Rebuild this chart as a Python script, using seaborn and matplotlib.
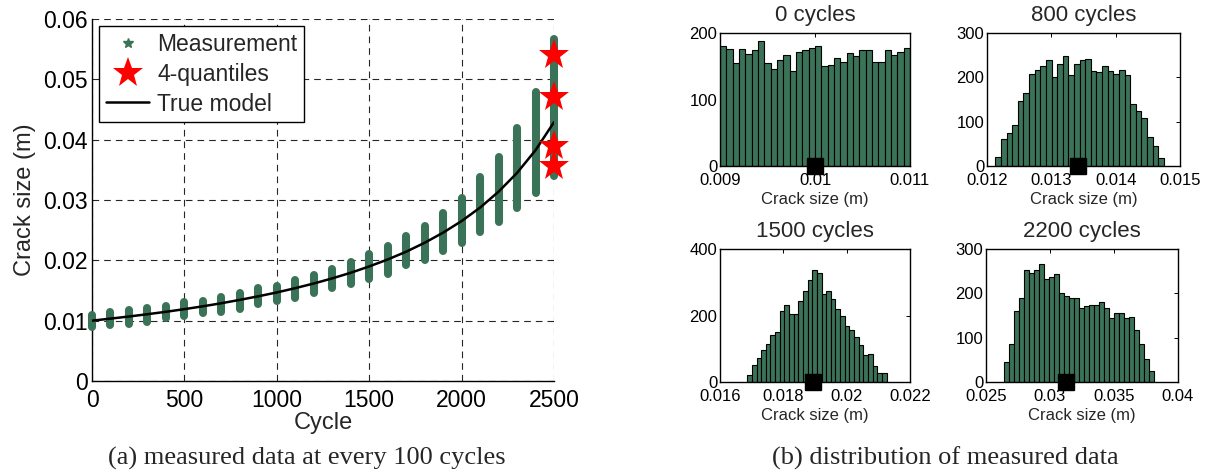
import numpy as np
import pandas as pd
import matplotlib
matplotlib.use("Agg")
import matplotlib.pyplot as plt
from matplotlib.lines import Line2D
import seaborn as sns

# ---------------- data ----------------
cycles = [0, 100, 200, 300, 400, 500, 600, 700, 800, 900, 1000, 1100, 1200,
          1300, 1400, 1500, 1600, 1700, 1800, 1900, 2000, 2100, 2200, 2300, 2400, 2500]
meas_low = [0.0090, 0.0093, 0.0095, 0.0098, 0.0104, 0.0108, 0.0112, 0.0115, 0.0120,
            0.0127, 0.0132, 0.0138, 0.0146, 0.0154, 0.0160, 0.0169, 0.0178, 0.0192,
            0.0201, 0.0216, 0.0229, 0.0247, 0.0263, 0.0286, 0.0311, 0.0340]
meas_high = [0.0110, 0.0114, 0.0117, 0.0121, 0.0125, 0.0131, 0.0133, 0.0140, 0.0146,
             0.0154, 0.0158, 0.0168, 0.0176, 0.0186, 0.0197, 0.0210, 0.0223, 0.0240,
             0.0257, 0.0279, 0.0303, 0.0338, 0.0371, 0.0419, 0.0479, 0.0567]
true_model = [0.01000, 0.01034, 0.01069, 0.01107, 0.01147, 0.01191, 0.01238, 0.01289,
              0.01345, 0.01404, 0.01468, 0.01539, 0.01616, 0.01701, 0.01794, 0.01899,
              0.02014, 0.02143, 0.02291, 0.02459, 0.02651, 0.02874, 0.03138, 0.03449,
              0.03825, 0.04290]
quant_cycle = [2500, 2500, 2500, 2500]
quant_vals = [0.0356, 0.0390, 0.0470, 0.0540]

hist_titles = ["0 cycles", "800 cycles", "1500 cycles", "2200 cycles"]
hist_lo = [0.0090, 0.01213, 0.01686, 0.02643]
hist_hi = [0.0110, 0.01475, 0.02126, 0.03813]
hist_counts = [
    [181, 176, 155, 176, 169, 175, 188, 155, 146, 160, 167, 143, 172, 175, 177,
     181, 151, 152, 162, 157, 170, 165, 174, 175, 157, 156, 175, 167, 172, 178],
    [20, 60, 75, 92, 146, 164, 207, 217, 225, 239, 200, 229, 247, 205, 229,
     239, 242, 215, 212, 225, 215, 207, 217, 205, 139, 124, 108, 65, 45, 17],
    [22, 51, 71, 97, 115, 142, 149, 214, 231, 205, 205, 243, 273, 306, 336,
     329, 264, 273, 250, 221, 200, 168, 156, 135, 111, 80, 85, 47, 28, 28],
    [44, 85, 161, 190, 252, 245, 252, 266, 232, 237, 244, 200, 195, 190, 190,
     168, 171, 173, 173, 180, 168, 144, 156, 156, 144, 146, 117, 85, 53, 24],
]
hist_true = [0.0100, 0.01342, 0.01895, 0.03125]
hist_xticks = [[0.009, 0.010, 0.011], [0.012, 0.013, 0.014, 0.015],
               [0.016, 0.018, 0.020, 0.022], [0.025, 0.030, 0.035, 0.040]]
hist_xlabels = [["0.009", "0.01", "0.011"], ["0.012", "0.013", "0.014", "0.015"],
                ["0.016", "0.018", "0.02", "0.022"], ["0.025", "0.03", "0.035", "0.04"]]
hist_yticks = [[0, 100, 200], [0, 100, 200, 300], [0, 200, 400], [0, 100, 200, 300]]

left_xticks = [0, 500, 1000, 1500, 2000, 2500]
left_yticks = [0, 0.01, 0.02, 0.03, 0.04, 0.05, 0.06]
left_ylabels = ["0", "0.01", "0.02", "0.03", "0.04", "0.05", "0.06"]

# ---------------- style ----------------
sns.set_style("white")
plt.rcParams['font.family'] = ['Liberation Sans', 'DejaVu Sans']
plt.rcParams['xtick.direction'] = 'in'
plt.rcParams['ytick.direction'] = 'in'

GREEN = '#3b7358'
W, H = 1205, 474
fig = plt.figure(figsize=(W / 100, H / 100), dpi=100)


def px_axes(x0, y0, x1, y1):
    return fig.add_axes([x0 / W, (H - y1) / H, (x1 - x0) / W, (y1 - y0) / H])


# ---------------- left chart ----------------
ax = px_axes(92, 19, 554, 381)
ax.vlines(cycles, meas_low, meas_high, color=GREEN, linewidth=5.8,
          capstyle='round', zorder=3, clip_on=False)
sns.lineplot(x=cycles, y=true_model, ax=ax, color='black', linewidth=1.8,
             zorder=4, legend=False)
ax.plot(quant_cycle, quant_vals, linestyle='none', marker='*', color='red',
        markersize=23, markeredgewidth=0, zorder=5, clip_on=False)
ax.set_xlim(0, 2500)
ax.set_ylim(0, 0.06)
ax.set_xticks(left_xticks)
ax.set_xticklabels([str(v) for v in left_xticks])
ax.set_yticks(left_yticks)
ax.set_yticklabels(left_ylabels)
ax.tick_params(labelsize=16.5, length=5, width=0.8, colors='black', pad=3)
ax.tick_params(axis='x', pad=6)
ax.grid(True, color='black', linestyle=(0, (6, 4.5)), linewidth=0.8, alpha=0.85)
for s in ['top', 'right']:
    ax.spines[s].set_visible(False)
for s in ['left', 'bottom']:
    ax.spines[s].set_color('black')
    ax.spines[s].set_linewidth(1.0)
ax.set_xlabel("Cycle", fontsize=17, labelpad=0)
ax.set_ylabel("Crack size (m)", fontsize=17, labelpad=5)

handles = [
    Line2D([], [], linestyle='none', marker='*', color=GREEN, markersize=7),
    Line2D([], [], linestyle='none', marker='*', color='red', markersize=23,
           markeredgewidth=0),
    Line2D([], [], color='black', linewidth=1.8),
]
leg = ax.legend(handles, ["Measurement", "4-quantiles", "True model"],
                loc='upper left', bbox_to_anchor=(0.015, 0.981), borderaxespad=0,
                fontsize=16.5, frameon=True, fancybox=False, framealpha=1,
                edgecolor='black', handlelength=1.9, handletextpad=0.35,
                labelspacing=0.3, borderpad=0.3)
leg.get_frame().set_linewidth(1.0)
leg.set_zorder(10)

# ---------------- histograms ----------------
boxes = [(720, 33, 910, 166), (987, 33, 1180, 166),
         (720, 249, 910, 382), (986, 249, 1178, 382)]
for i in range(4):
    hax = px_axes(*boxes[i])
    nb = len(hist_counts[i])
    width = (hist_hi[i] - hist_lo[i]) / nb
    centers = hist_lo[i] + width * (np.arange(nb) + 0.5)
    df = pd.DataFrame({"size": centers, "count": hist_counts[i]})
    sns.histplot(data=df, x="size", weights="count", bins=nb,
                 binrange=(hist_lo[i], hist_hi[i]), ax=hax,
                 color=GREEN, edgecolor='black', linewidth=0.8, alpha=1)
    hax.plot([hist_true[i]], [0], marker='s', color='black', markersize=11.5,
             linestyle='none', clip_on=False, zorder=6)
    hax.set_xlim(hist_xticks[i][0], hist_xticks[i][-1])
    hax.set_ylim(hist_yticks[i][0], hist_yticks[i][-1])
    hax.set_xticks(hist_xticks[i])
    hax.set_xticklabels(hist_xlabels[i])
    hax.set_yticks(hist_yticks[i])
    hax.set_yticklabels([str(v) for v in hist_yticks[i]])
    hax.tick_params(labelsize=12, length=3, width=0.7, colors='black',
                    top=True, right=True, pad=2)
    hax.tick_params(axis='x', pad=5)
    hax.set_ylabel("")
    hax.set_xlabel("Crack size (m)", fontsize=12, labelpad=3)
    hax.set_title(hist_titles[i], fontsize=16, pad=9)
    for s in hax.spines.values():
        s.set_color('black')
        s.set_linewidth(1.0)

# ---------------- captions ----------------
fig.text(307 / W, 1 - 458 / H, "(a) measured data at every 100 cycles",
         ha='center', va='center', fontsize=19, family='Liberation Serif')
fig.text(945 / W, 1 - 458 / H, "(b) distribution of measured data",
         ha='center', va='center', fontsize=19, family='Liberation Serif')

fig.savefig("out.png", dpi=100)
